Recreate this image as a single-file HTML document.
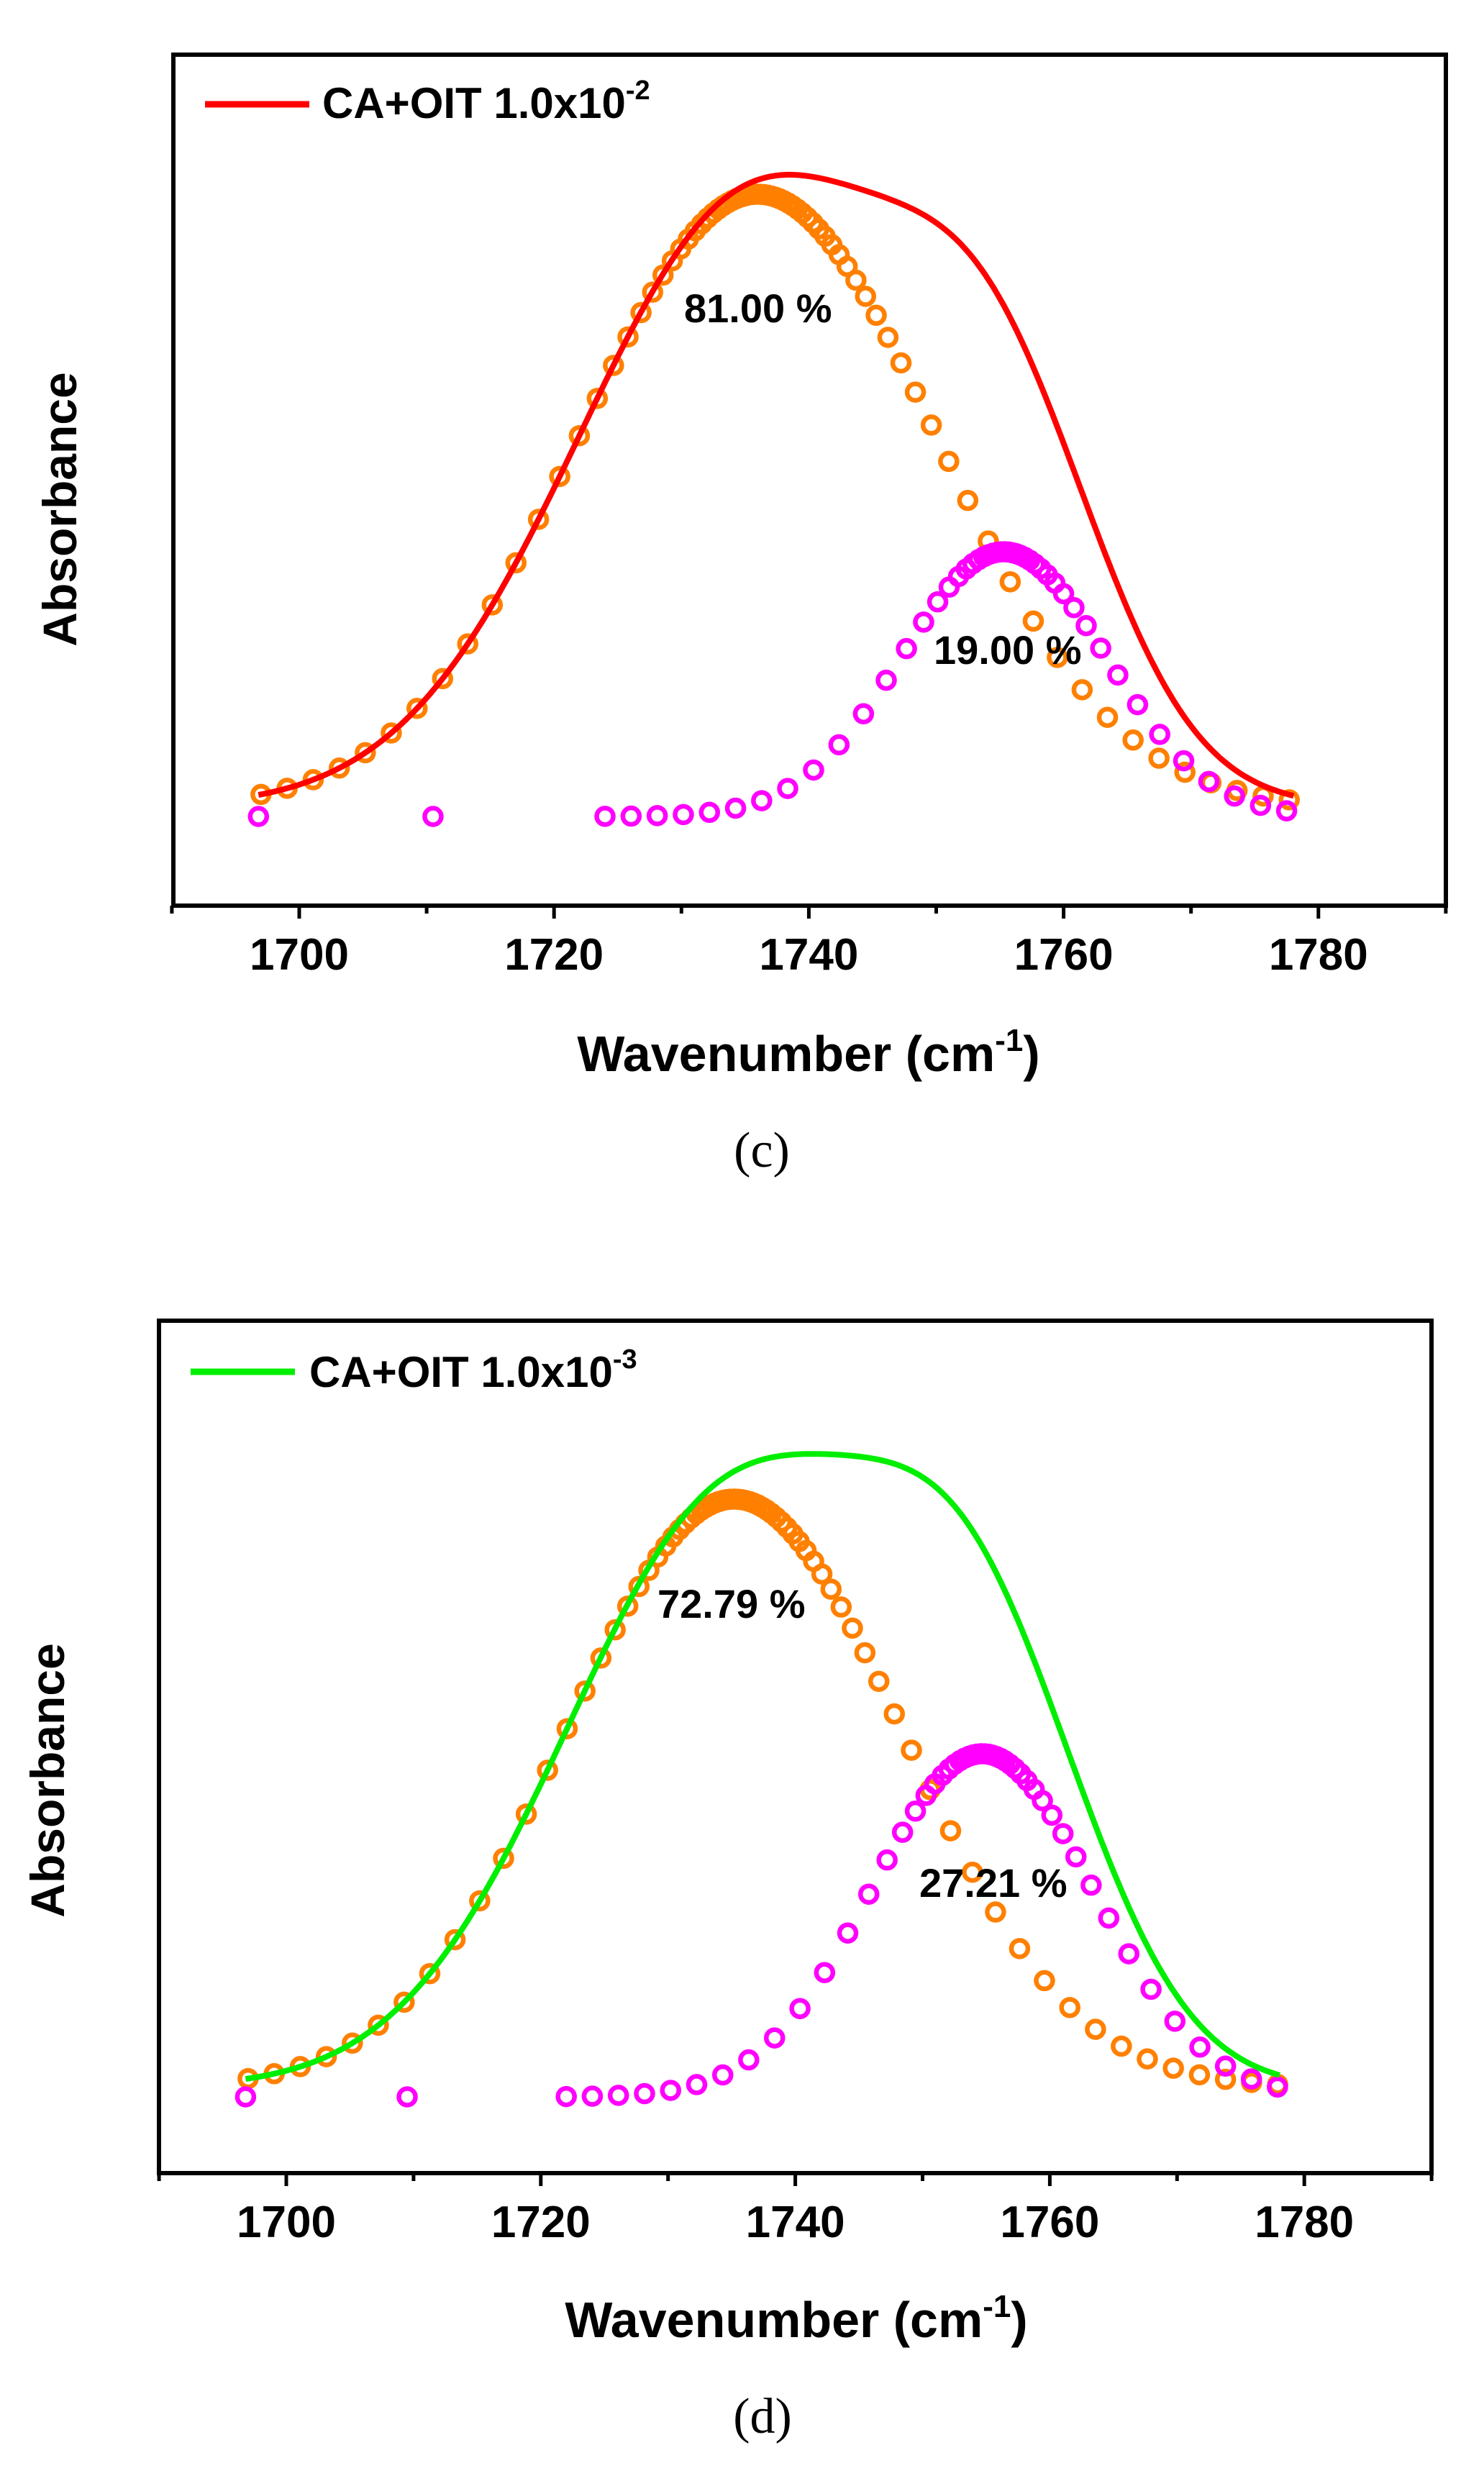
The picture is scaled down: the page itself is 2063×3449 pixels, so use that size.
<!DOCTYPE html>
<html><head><meta charset="utf-8">
<style>
html,body{margin:0;padding:0;background:#fff;}
svg{display:block;}
text{font-family:"Liberation Sans",Arial,sans-serif;font-weight:bold;fill:#000;}
.serif{font-family:"Liberation Serif",serif;font-weight:normal;}
</style></head>
<body>
<svg id="s" width="2063" height="3449" viewBox="0 0 2063 3449" xmlns="http://www.w3.org/2000/svg">
<rect width="2063" height="3449" fill="#fff"/>
<text x="83" y="708" font-size="66" text-anchor="middle" dominant-baseline="central" transform="rotate(-90 83 708)">Absorbance</text>
<text x="1124" y="1489" font-size="70" text-anchor="middle">Wavenumber (cm<tspan font-size="44" dy="-28">-1</tspan><tspan dy="28">)</tspan></text>
<text class="serif" x="1059" y="1622" font-size="70" text-anchor="middle">(c)</text>
<text x="448" y="164" font-size="60">CA+OIT 1.0x10<tspan font-size="38" dy="-26">-2</tspan></text>
<line x1="285" y1="145" x2="430" y2="145" stroke="#ff0000" stroke-width="9"/>
<text x="951" y="448" font-size="56">81.00 %</text>
<text x="66" y="2475" font-size="66" text-anchor="middle" dominant-baseline="central" transform="rotate(-90 66 2475)">Absorbance</text>
<text x="1107" y="3249" font-size="70" text-anchor="middle">Wavenumber (cm<tspan font-size="44" dy="-28">-1</tspan><tspan dy="28">)</tspan></text>
<text class="serif" x="1060" y="3382" font-size="70" text-anchor="middle">(d)</text>
<text x="430" y="1928" font-size="60">CA+OIT 1.0x10<tspan font-size="38" dy="-26">-3</tspan></text>
<line x1="265" y1="1907" x2="410" y2="1907" stroke="#00ee00" stroke-width="9"/>
<text x="914" y="2249" font-size="56">72.79 %</text>
<g id="g"></g>
<text x="1298" y="923" font-size="56">19.00 %</text>
<text x="1278" y="2637" font-size="56">27.21 %</text>
</svg>
<script>
var NS="http://www.w3.org/2000/svg",g=document.getElementById("g");
function el(t,a){var e=document.createElementNS(NS,t);for(var k in a)e.setAttribute(k,a[k]);g.appendChild(e);return e;}
function txt(x,y,s,sz){var e=el("text",{x:x,y:y,"font-size":sz,"text-anchor":"middle"});e.textContent=s;}
function panel(P){
  var X=function(v){return P.x0+(v-1700)*P.k;};
  el("rect",{x:P.L,y:P.T,width:P.R-P.L,height:P.B-P.T,fill:"none",stroke:"#000","stroke-width":6});
  for(var v=1690;v<=1790;v+=10){var maj=(v%20==0);
    el("line",{x1:X(v),y1:P.B,x2:X(v),y2:P.B+(maj?18:11),stroke:"#000","stroke-width":5});
    if(maj && v>1690 && v<1790) txt(X(v),P.ty,String(v),62);}
  function O(v){return P.oh*Math.exp(-Math.pow(v-P.oc,2)/(2*P.os*P.os));}
  function M(v){return P.mh*Math.exp(-Math.pow(v-P.mc,2)/(2*P.ms*P.ms));}
  function pts(c,s,a,b){var r=[],v=a;while(v<=b){r.push(v);var d=(v-c)/s;v+=0.3+1.75*(1-Math.exp(-d*d));}return r;}
  pts(P.oc,P.os,1697,1778.2).forEach(function(v){el("circle",{cx:X(v),cy:P.ob-O(v),r:11.5,fill:"none",stroke:"#ff8000","stroke-width":6.5});});
  var mp=[1696.8,P.iso].concat(pts(P.mc,P.ms,P.ms0,1778.2));
  mp.forEach(function(v){el("circle",{cx:X(v),cy:P.mb-M(v),r:11.5,fill:"none",stroke:"#ff00ff","stroke-width":6.5});});
  var d="";for(var v=1696.8;v<=1778.25;v+=0.25){d+=(d?"L":"M")+X(v).toFixed(1)+","+(P.ob-O(v)-M(v)).toFixed(1);}
  el("path",{d:d,fill:"none",stroke:P.col,"stroke-width":8,"stroke-linejoin":"round"});
}
panel({L:241,R:2010,T:76,B:1259,x0:416,k:17.71,ty:1348,
  oc:1736,os:14,oh:852,ob:1122,mc:1755.3,ms:8,mh:368,mb:1135,iso:1710.5,ms0:1724,col:"#ff0000"});
panel({L:221,R:1990,T:1836,B:3021,x0:398,k:17.69,ty:3110,
  oc:1735.2,os:13.2,oh:818,ob:2902,mc:1754.7,ms:8.7,mh:477,mb:2915,iso:1709.5,ms0:1722,col:"#00ee00"});
</script>
</body></html>
